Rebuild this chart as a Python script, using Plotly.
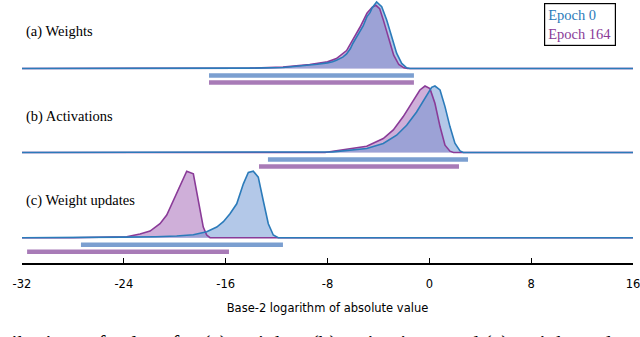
import plotly.graph_objects as go

# ---------------- data (x: base-2 log of |value|, h: normalised density) ----------------
panel_labels = ["(a) Weights", "(b) Activations", "(c) Weight updates"]
series_names = ["Epoch 0", "Epoch 164"]

weights_x_e0 = [-32, -18, -14.1, -11.5, -9.4, -8.8, -8.0, -7.6, -7.3, -6.8, -6.5, -6.2, -6.0, -5.7, -5.45,
                -5.2, -4.9, -4.66, -4.5, -4.14, -3.74, -3.35, -2.96, -2.57, -2.17, -1.78, -1.52, 16]
weights_h_e0 = [0, 0, 0.005, 0.015, 0.05, 0.065, 0.085, 0.1, 0.125, 0.17, 0.22, 0.3, 0.38, 0.47, 0.55,
                0.64, 0.78, 0.84, 0.91, 1.0, 0.93, 0.73, 0.48, 0.23, 0.076, 0.01, 0, 0]
weights_x_e164 = [-32, -18, -14.1, -11.5, -9.4, -8.0, -7.3, -6.5, -6.0, -5.45, -4.9, -4.5, -4.2, -3.9,
                  -3.6, -3.2, -2.8, -2.4, -2.0, -1.7, 16]
weights_h_e164 = [0, 0, 0.005, 0.02, 0.06, 0.1, 0.15, 0.27, 0.43, 0.62, 0.83, 0.92, 0.95, 0.9,
                  0.72, 0.45, 0.2, 0.06, 0.01, 0, 0]

acts_x_e0 = [-32, -8.2, -7.57, -4.92, -3.62, -2.57, -1.78, -1.0, -0.34, 0.18, 0.44, 0.84, 1.23, 1.62,
             2.01, 2.41, 2.67, 16]
acts_h_e0 = [0, 0, 0.01, 0.06, 0.135, 0.26, 0.41, 0.61, 0.81, 0.98, 1.0, 0.94, 0.69, 0.39,
             0.14, 0.025, 0, 0]
acts_x_e164 = [-32, -8.2, -7.57, -4.92, -3.62, -2.83, -2.05, -1.26, -0.74, -0.34, 0.05, 0.44, 0.84,
               1.23, 1.62, 1.9, 16]
acts_h_e164 = [0, 0, 0.02, 0.095, 0.21, 0.34, 0.54, 0.77, 0.94, 1.0, 0.96, 0.74, 0.39,
               0.11, 0.02, 0, 0]

upd_x_e0 = [-32, -26, -24, -21.5, -19.85, -18.54, -17.49, -16.7, -16.18, -15.66, -15.13, -14.61, -14.22,
            -13.83, -13.44, -13.05, -12.65, -12.26, -11.87, 16]
upd_h_e0 = [0, 0, 0.008, 0.015, 0.025, 0.045, 0.09, 0.16, 0.24, 0.36, 0.51, 0.81, 0.98,
            1.0, 0.91, 0.56, 0.21, 0.04, 0, 0]
upd_x_e164 = [-32, -28, -23.78, -22.73, -21.94, -21.16, -20.63, -20.1, -19.72, -19.33, -19.06, -18.54,
              -18.28, -18.02, -17.76, -17.49, -17.23, 16]
upd_h_e164 = [0, 0, 0.015, 0.055, 0.1, 0.21, 0.34, 0.56, 0.74, 0.89, 1.0, 0.96,
              0.71, 0.41, 0.16, 0.04, 0, 0]

# representable ranges (start, end) per panel, per epoch
weights_range = [(-17.31, -1.21), (-17.31, -1.21)]
acts_range = [(-12.68, 3.04), (-13.38, 2.33)]
upd_range = [(-27.37, -11.5), (-31.6, -15.74)]

x_ticks = [-32, -24, -16, -8, 0, 8, 16]
x_title = "Base-2 logarithm of absolute value"
caption = "Distributions of values for (a) weights, (b) activations, and (c) weight updates during training"

# ---------------- styling ----------------
line_cols = ["#2b7bba", "#8a3b98"]
fill_cols = ["rgba(110,150,210,0.52)", "rgba(160,95,180,0.50)"]
bar_cols = ["#7b9fd0", "#a87bb7"]

baselines = [194.5, 110.5, 25.3]   # y (px above axis) of each ridge
peak_h = 66.5
bar_off = [7, 14]
label_y = [232, 147, 63]
serif = "Liberation Serif, DejaVu Serif, serif"

panels = [
    ((weights_x_e0, weights_h_e0), (weights_x_e164, weights_h_e164), weights_range),
    ((acts_x_e0, acts_h_e0), (acts_x_e164, acts_h_e164), acts_range),
    ((upd_x_e0, upd_h_e0), (upd_x_e164, upd_h_e164), upd_range),
]

fig = go.Figure()
for p, (s0, s1, rng) in enumerate(panels):
    base = baselines[p]
    series = [s0, s1]
    # fills (purple first, blue on top)
    for i in [1, 0]:
        xs, hs = series[i]
        fig.add_trace(go.Scatter(x=xs, y=[base + h * peak_h for h in hs], mode="none",
                                 fill="toself", fillcolor=fill_cols[i], hoverinfo="skip",
                                 showlegend=False))
    # lines (purple first, blue on top)
    for i in [1, 0]:
        xs, hs = series[i]
        fig.add_trace(go.Scatter(x=xs, y=[base + h * peak_h for h in hs], mode="lines",
                                 line=dict(color=line_cols[i], width=1.6), hoverinfo="skip",
                                 showlegend=False))
    # range bars
    for i in [0, 1]:
        a, b = rng[i]
        fig.add_trace(go.Scatter(x=[a, b], y=[base - bar_off[i]] * 2, mode="lines",
                                 line=dict(color=bar_cols[i], width=4.5), hoverinfo="skip",
                                 showlegend=False))
    fig.add_annotation(x=0.004, xref="paper", y=label_y[p], yref="y", text=panel_labels[p],
                       showarrow=False, xanchor="left", yanchor="middle",
                       font=dict(family=serif, size=14.5, color="black"))

# legend box
fig.add_annotation(x=(544 - 22) / 611, xref="paper", y=1 - 3 / 263, yref="paper",
                   xanchor="left", yanchor="top",
                   text=f"<span style='color:{line_cols[0]}'>{series_names[0]}</span><br>"
                        f"<span style='color:{line_cols[1]}'>{series_names[1]}</span>",
                   showarrow=False, align="left", bordercolor="black", borderwidth=1.2,
                   borderpad=3, bgcolor="white",
                   font=dict(family=serif, size=14.5))

# cropped caption at the bottom of the picture
fig.add_annotation(x=(-34 - 22) / 611, xref="paper", y=-(329 - 263) / 263, yref="paper",
                   xanchor="left", yanchor="top", text=caption, showarrow=False,
                   font=dict(family=serif, size=21.8, color="black"))

fig.update_layout(
    width=640, height=337,
    margin=dict(l=22, r=7, t=0, b=74),
    paper_bgcolor="white", plot_bgcolor="white",
    showlegend=False,
    xaxis=dict(range=[-32.001, 16.001], tickvals=x_ticks, ticktext=[str(t) for t in x_ticks],
               automargin=False, ticklabeloverflow="allow",
               showgrid=False, zeroline=False, showline=True, linecolor="black", linewidth=1.5,
               ticks="inside", ticklen=5, tickwidth=1.2, tickcolor="black",
               ticklabelstandoff=9,
               tickfont=dict(family="DejaVu Sans, sans-serif", size=11.5, color="black"),
               title=dict(text=x_title, standoff=14,
                          font=dict(family="DejaVu Sans, sans-serif", size=11.5, color="black"))),
    yaxis=dict(range=[0, 263], visible=False, showgrid=False, zeroline=False),
)

fig.write_html("out.html", config={"displayModeBar": False},
               post_script="document.body.style.margin='0';")
